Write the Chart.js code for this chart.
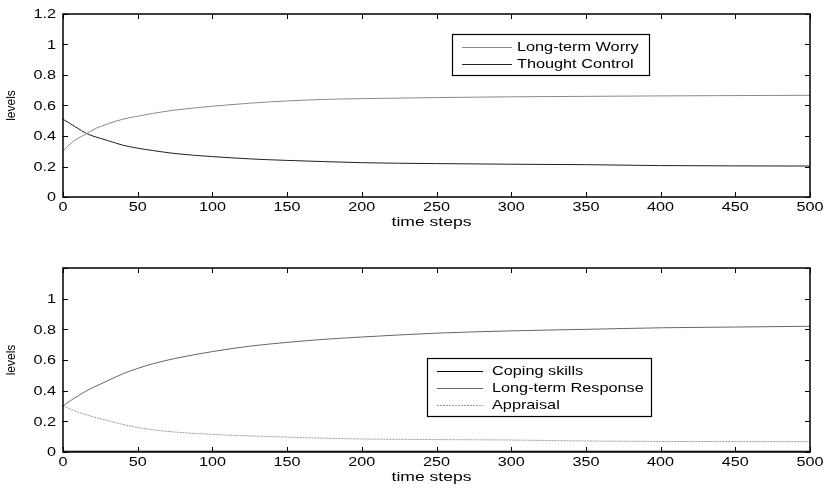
<!DOCTYPE html>
<html>
<head>
<meta charset="utf-8">
<script src="https://cdn.jsdelivr.net/npm/chart.js@4"></script>
<style>
  body { margin: 0; background: #fff; }
  #wrap { position: relative; width: 824px; height: 489px; }
  .panel { position: absolute; left: 0; }
</style>
</head>
<body>
<div id="wrap">
  <div class="panel" style="top:0"><canvas id="topChart" width="824" height="240"></canvas></div>
  <div class="panel" style="top:240px"><canvas id="bottomChart" width="824" height="249"></canvas></div>
</div>
<script>
const steps = [0, 5, 10, 15, 20, 30, 40, 50, 60, 75, 100, 125, 150, 175, 200, 250, 300, 350, 400, 450, 500];

// top panel
const worry   = [0.30, 0.35, 0.385, 0.41, 0.44, 0.48, 0.51, 0.53, 0.548, 0.57, 0.595, 0.615, 0.63, 0.64, 0.645, 0.652, 0.657, 0.66, 0.663, 0.665, 0.667];
const thought = [0.51, 0.48, 0.45, 0.42, 0.40, 0.37, 0.34, 0.32, 0.305, 0.285, 0.265, 0.25, 0.24, 0.232, 0.225, 0.219, 0.215, 0.212, 0.206, 0.204, 0.203];

// bottom panel
const coping    = [0.005, 0.005, 0.005, 0.005, 0.005, 0.005, 0.005, 0.005, 0.005, 0.005, 0.005, 0.005, 0.005, 0.005, 0.005, 0.005, 0.005, 0.005, 0.005, 0.005, 0.005];
const response  = [0.30, 0.335, 0.365, 0.395, 0.42, 0.465, 0.51, 0.545, 0.575, 0.61, 0.655, 0.69, 0.715, 0.735, 0.75, 0.775, 0.79, 0.80, 0.81, 0.815, 0.82];
const appraisal = [0.30, 0.28, 0.26, 0.245, 0.23, 0.205, 0.18, 0.16, 0.145, 0.13, 0.115, 0.105, 0.097, 0.09, 0.085, 0.081, 0.078, 0.072, 0.069, 0.068, 0.067];

const xTicks = [0, 50, 100, 150, 200, 250, 300, 350, 400, 450, 500];
const yTicksTop = ['0', '0.2', '0.4', '0.6', '0.8', '1', '1.2'];
const yTicksBottom = ['0', '0.2', '0.4', '0.6', '0.8', '1', ''];

const FONT = '"Liberation Sans", Arial, sans-serif';
Chart.defaults.font.family = FONT;
Chart.defaults.color = '#000';

function pts(vals) {
  return steps.map((s, i) => ({ x: s, y: vals[i] }));
}

function line(label, vals, color, dash) {
  return {
    label: label,
    data: pts(vals),
    borderColor: color,
    borderWidth: 1,
    borderDash: dash || [],
    pointRadius: 0,
    cubicInterpolationMode: 'monotone',
    fill: false
  };
}

// the source image text is wide, so stretch it sideways
function wideText(ctx, text, x, y, align, sx) {
  ctx.save();
  ctx.translate(x, y);
  ctx.scale(sx, 1);
  ctx.textAlign = align;
  ctx.fillText(text, 0, 0);
  ctx.restore();
}

// matlab style frame, inward ticks, labels and boxed legend
const frame = {
  id: 'frame',
  afterDraw(chart, args, opts) {
    const ctx = chart.ctx;
    const a = chart.chartArea;
    const xs = chart.scales.x, ys = chart.scales.y;
    ctx.save();
    ctx.strokeStyle = '#000';
    ctx.lineWidth = 1.5;
    ctx.strokeRect(a.left, a.top, a.right - a.left, a.bottom - a.top);
    ctx.lineWidth = 1;
    ctx.beginPath();
    xs.ticks.forEach(t => {
      const px = Math.round(xs.getPixelForValue(t.value)) + 0.5;
      ctx.moveTo(px, a.bottom); ctx.lineTo(px, a.bottom - 5);
      ctx.moveTo(px, a.top); ctx.lineTo(px, a.top + 5);
    });
    ys.ticks.forEach(t => {
      const py = Math.round(ys.getPixelForValue(t.value)) + 0.5;
      ctx.moveTo(a.left, py); ctx.lineTo(a.left + 5, py);
      ctx.moveTo(a.right, py); ctx.lineTo(a.right - 5, py);
    });
    ctx.stroke();

    // tick labels and axis titles
    ctx.fillStyle = '#000';
    ctx.textBaseline = 'middle';
    ctx.font = '12px ' + FONT;
    xs.ticks.forEach((t, i) => {
      wideText(ctx, String(xTicks[i]), xs.getPixelForValue(t.value), a.bottom + 11, 'center', 1.35);
    });
    ys.ticks.forEach((t, i) => {
      wideText(ctx, opts.yLabels[i], a.left - 7, ys.getPixelForValue(t.value) + 1, 'right', 1.35);
    });
    ctx.font = '13px ' + FONT;
    wideText(ctx, 'time steps', (a.left + a.right) / 2 - 5, a.bottom + 25, 'center', 1.35);
    ctx.save();
    ctx.font = '12px ' + FONT;
    ctx.translate(12, (a.top + a.bottom) / 2);
    ctx.rotate(-Math.PI / 2);
    ctx.textAlign = 'center';
    ctx.fillText('levels', 0, 0);
    ctx.restore();

    // legend
    const b = opts.box;
    ctx.fillStyle = '#fff';
    ctx.fillRect(b.x, b.y, b.w, b.h);
    ctx.lineWidth = 1.2;
    ctx.strokeStyle = '#000';
    ctx.strokeRect(b.x + 0.5, b.y + 0.5, b.w, b.h);
    ctx.font = '13px ' + FONT;
    chart.data.datasets.forEach((ds, i) => {
      const ry = b.y + b.first + i * b.row;
      ctx.strokeStyle = ds.borderColor;
      ctx.lineWidth = 1;
      ctx.setLineDash(ds.borderDash);
      ctx.beginPath();
      ctx.moveTo(b.x + 10, ry + 0.5);
      ctx.lineTo(b.x + 10 + b.len, ry + 0.5);
      ctx.stroke();
      ctx.setLineDash([]);
      ctx.fillStyle = '#000';
      wideText(ctx, ds.label, b.x + 10 + b.len + b.gap, ry, 'left', 1.25);
    });
    ctx.restore();
  }
};

function options(yLabels, xHeight, padTop, box) {
  return {
    responsive: false,
    animation: false,
    layout: { padding: { top: padTop, right: 14, left: 0, bottom: 0 } },
    plugins: {
      legend: { display: false },
      tooltip: { enabled: false },
      frame: { box: box, yLabels: yLabels }
    },
    scales: {
      x: {
        type: 'linear',
        min: 0, max: 500,
        afterBuildTicks: s => { s.ticks = xTicks.map(v => ({ value: v })); },
        afterFit: s => { s.height = xHeight; },
        grid: { display: false, drawTicks: false },
        border: { display: false },
        ticks: { display: false }
      },
      y: {
        min: 0, max: 1.2,
        afterBuildTicks: s => { s.ticks = yLabels.map((l, i) => ({ value: i * 0.2 })); },
        afterFit: s => { s.width = 63; },
        grid: { display: false, drawTicks: false },
        border: { display: false },
        ticks: { display: false }
      }
    }
  };
}

new Chart(document.getElementById('topChart'), {
  type: 'line',
  data: {
    datasets: [
      line('Long-term Worry', worry, '#8a8a8a'),
      line('Thought Control', thought, '#222222')
    ]
  },
  options: options(yTicksTop, 43, 14, { x: 452, y: 34, w: 197, h: 41, first: 13, row: 17, len: 50, gap: 5 }),
  plugins: [frame]
});

new Chart(document.getElementById('bottomChart'), {
  type: 'line',
  data: {
    datasets: [
      line('Coping skills', coping, '#000000'),
      line('Long-term Response', response, '#666666'),
      line('Appraisal', appraisal, '#999999', [2, 1])
    ]
  },
  options: options(yTicksBottom, 37, 28, { x: 427, y: 118, w: 224, h: 58, first: 13, row: 17, len: 46, gap: 9 }),
  plugins: [frame]
});
</script>
</body>
</html>
